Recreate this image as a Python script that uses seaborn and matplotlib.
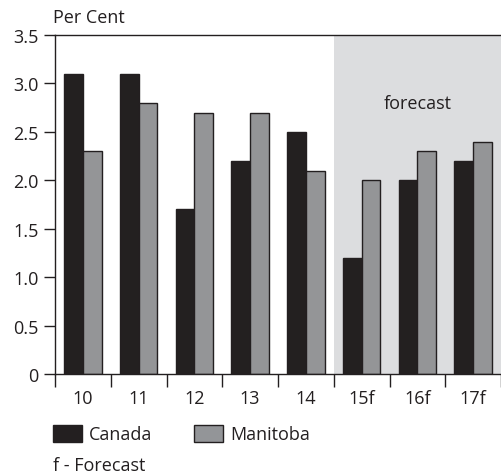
import matplotlib
matplotlib.use("Agg")
import matplotlib.pyplot as plt
import seaborn as sns
import pandas as pd
from matplotlib.patches import Patch

# data
years = ["10", "11", "12", "13", "14", "15f", "16f", "17f"]
canada = [3.1, 3.1, 1.7, 2.2, 2.5, 1.2, 2.0, 2.2]
manitoba = [2.3, 2.8, 2.7, 2.7, 2.1, 2.0, 2.3, 2.4]
yticks = [0, 0.5, 1.0, 1.5, 2.0, 2.5, 3.0, 3.5]
ytick_labels = ["0", "0.5", "1.0", "1.5", "2.0", "2.5", "3.0", "3.5"]

df = pd.DataFrame({
    "year": years * 2,
    "value": canada + manitoba,
    "region": ["Canada"] * len(years) + ["Manitoba"] * len(years),
})

sns.set_style("white")
plt.rcParams["font.family"] = ["Open Sans", "DejaVu Sans"]

colors = {"Canada": "#231f20", "Manitoba": "#939598"}

fig = plt.figure(figsize=(5.01, 4.77), dpi=100)
ax = fig.add_axes([0.1098, 0.2138, 0.8902, 0.7107])

# forecast shading
ax.axvspan(4.5, 7.5, color="#dcdddf", zorder=0, lw=0)

sns.barplot(data=df, x="year", y="value", hue="region", palette=colors,
            width=0.67, edgecolor="#231f20", linewidth=1.0, ax=ax,
            legend=False, zorder=2)

ax.text(6, 2.8, "forecast", ha="center", va="center", fontsize=13,
        color="#231f20")

ax.set_xlim(-0.5, 7.5)
ax.set_ylim(0, 3.5)
ax.set_yticks(yticks)
ax.set_yticklabels(ytick_labels)
ax.set_xlabel("")
ax.set_ylabel("")

# ticks between categories
ax.set_xticks([i - 0.5 for i in range(len(years) + 1)], minor=True)
ax.tick_params(axis="x", which="major", length=0, labelsize=13, pad=11,
               colors="#231f20")
ax.tick_params(axis="x", which="minor", length=9, width=1, direction="out",
               color="#231f20", bottom=True)
ax.tick_params(axis="y", length=8, width=1, direction="out", labelsize=13,
               left=True, pad=4, colors="#231f20")

for side in ["left", "top", "bottom"]:
    ax.spines[side].set_color("#231f20")
    ax.spines[side].set_linewidth(1.0)
    ax.spines[side].set_zorder(3)
ax.spines["right"].set_visible(False)

fig.text(53 / 501, 1 - 18 / 477, "Per Cent", fontsize=13, va="center",
         ha="left", color="#231f20")

handles = [Patch(facecolor=colors[r], edgecolor="#231f20", lw=1.0) for r in ["Canada", "Manitoba"]]
fig.legend(handles, ["Canada", "Manitoba"], loc="center left",
           bbox_to_anchor=(53 / 501, 1 - 435 / 477), ncol=2, frameon=False,
           fontsize=13, handlelength=1.6, handleheight=1.1, handletextpad=0.4,
           columnspacing=2.3, borderpad=0, borderaxespad=0,
           labelcolor="#231f20")

fig.text(53 / 501, 1 - 466 / 477, "f - Forecast", fontsize=13, va="center",
         ha="left", color="#231f20")

fig.savefig("out.png", dpi=100)
